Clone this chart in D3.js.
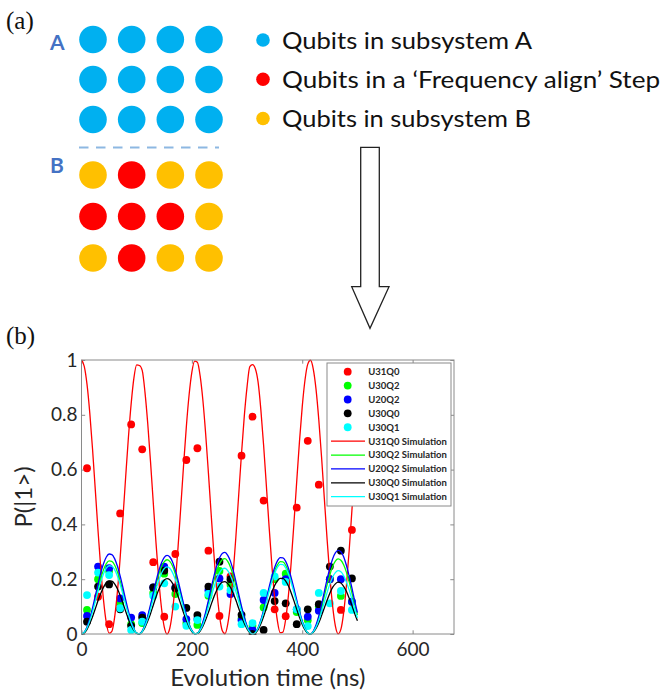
<!DOCTYPE html>
<html>
<head>
<meta charset="utf-8">
<script src="https://cdn.jsdelivr.net/npm/d3@7"></script>
<style>
  body { margin: 0; background: #fff; }
  svg { display: block; }
</style>
</head>
<body>
<svg id="fig" width="661" height="696"></svg>
<script>
// ---------- Panel (a): qubit layout ----------
const layoutCols = [0, 1, 2, 3];
const layoutRowsA = [0, 1, 2];
const layoutRowsB = [0, 1, 2];
// A = subsystem A, F = frequency-align step, B = subsystem B
const gridA = [
  ["A", "A", "A", "A"],
  ["A", "A", "A", "A"],
  ["A", "A", "A", "A"]
];
const gridB = [
  ["B", "F", "B", "B"],
  ["F", "F", "F", "B"],
  ["B", "F", "B", "B"]
];
const qubitKinds = ["A", "F", "B"];
const qubitLabels = [
  "Qubits in subsystem A",
  "Qubits in a \u2018Frequency align\u2019 Step",
  "Qubits in subsystem B"
];

// ---------- Panel (b): measured populations ----------
const sampleTimes = [10, 30, 50, 70, 90, 110, 130, 150, 170, 190, 210, 230, 250,
                     270, 290, 310, 330, 350, 370, 390, 410, 430, 450, 470, 490];
const U31Q0 = [0.605, 0.136, 0.036, 0.440, 0.765, 0.674, 0.262, 0.063, 0.292, 0.635, 0.678, 0.304, 0.066,
               0.210, 0.651, 0.793, 0.487, 0.090, 0.065, 0.461, 0.705, 0.545, 0.200, 0.088, 0.380];
const U30Q2 = [0.088, 0.200, 0.230, 0.110, 0.036, 0.040, 0.150, 0.220, 0.146, 0.040, 0.033, 0.140, 0.230,
               0.180, 0.057, 0.030, 0.097, 0.200, 0.220, 0.080, 0.050, 0.100, 0.200, 0.139, 0.118];
const U20Q2 = [0.066, 0.246, 0.240, 0.130, 0.060, 0.069, 0.170, 0.246, 0.170, 0.054, 0.055, 0.160, 0.203,
               0.146, 0.050, 0.015, 0.124, 0.150, 0.200, 0.090, 0.063, 0.085, 0.200, 0.200, 0.118];
const U30Q0 = [0.045, 0.173, 0.181, 0.090, 0.030, 0.060, 0.170, 0.231, 0.167, 0.095, 0.069, 0.173, 0.264,
               0.200, 0.070, 0.000, 0.015, 0.120, 0.112, 0.036, 0.090, 0.109, 0.246, 0.304, 0.203];
const U30Q1 = [0.142, 0.224, 0.215, 0.094, 0.015, 0.045, 0.140, 0.185, 0.100, 0.030, 0.051, 0.146, 0.173,
               0.160, 0.036, 0.040, 0.150, 0.210, 0.190, 0.090, 0.029, 0.150, 0.112, 0.157, 0.088];

// ---------- Panel (b): simulated populations ----------
const simTimes = [0, 5, 10, 15, 20, 25, 30, 35, 40, 45, 50, 55, 60, 65, 70, 75, 80, 85, 90, 95,
  100, 105, 110, 115, 120, 125, 130, 135, 140, 145, 150, 155, 160, 165, 170, 175, 180, 185, 190, 195,
  200, 205, 210, 215, 220, 225, 230, 235, 240, 245, 250, 255, 260, 265, 270, 275, 280, 285, 290, 295,
  300, 305, 310, 315, 320, 325, 330, 335, 340, 345, 350, 355, 360, 365, 370, 375, 380, 385, 390, 395,
  400, 405, 410, 415, 420, 425, 430, 435, 440, 445, 450, 455, 460, 465, 470, 475, 480, 485, 490, 495, 500];
const U31Q0Sim = [1.000, 0.977, 0.911, 0.807, 0.675, 0.526, 0.376, 0.237, 0.122, 0.041, 0.003, 0.010, 0.061, 0.153, 0.277, 0.421, 0.572, 0.717, 0.841, 0.935,
  0.982, 0.980, 0.962, 0.883, 0.769, 0.631, 0.481, 0.333, 0.199, 0.094, 0.025, 0.000, 0.021, 0.085, 0.187, 0.318, 0.466, 0.617, 0.757, 0.873,
  0.956, 0.996, 0.992, 0.942, 0.852, 0.730, 0.587, 0.436, 0.290, 0.164, 0.069, 0.013, 0.001, 0.036, 0.112, 0.224, 0.362, 0.512, 0.660, 0.795,
  0.902, 0.976, 0.983, 0.968, 0.919, 0.819, 0.689, 0.541, 0.390, 0.250, 0.132, 0.048, 0.005, 0.007, 0.054, 0.142, 0.263, 0.406, 0.557, 0.703,
  0.830, 0.927, 0.985, 0.999, 0.967, 0.893, 0.782, 0.646, 0.496, 0.347, 0.212, 0.103, 0.030, 0.001, 0.017, 0.077, 0.176, 0.304, 0.451, 0.602, 0.743];
const U30Q2Sim = [0.000, 0.006, 0.024, 0.052, 0.087, 0.127, 0.167, 0.204, 0.235, 0.257, 0.267, 0.265, 0.252, 0.227, 0.194, 0.155, 0.115, 0.076, 0.043, 0.017,
  0.003, 0.001, 0.010, 0.032, 0.062, 0.100, 0.141, 0.181, 0.217, 0.246, 0.264, 0.271, 0.265, 0.248, 0.220, 0.185, 0.145, 0.104, 0.066, 0.034,
  0.012, 0.001, 0.002, 0.016, 0.041, 0.074, 0.114, 0.155, 0.195, 0.230, 0.256, 0.271, 0.275, 0.265, 0.244, 0.213, 0.176, 0.134, 0.093, 0.057,
  0.027, 0.008, 0.000, 0.005, 0.021, 0.048, 0.083, 0.122, 0.162, 0.199, 0.230, 0.252, 0.264, 0.263, 0.251, 0.227, 0.195, 0.157, 0.117, 0.079,
  0.045, 0.019, 0.004, 0.000, 0.009, 0.029, 0.060, 0.097, 0.138, 0.179, 0.216, 0.246, 0.266, 0.274, 0.269, 0.253, 0.226, 0.191, 0.150, 0.109, 0.070];
const U20Q2Sim = [0.000, 0.007, 0.026, 0.057, 0.095, 0.139, 0.183, 0.224, 0.257, 0.281, 0.292, 0.290, 0.275, 0.248, 0.212, 0.170, 0.125, 0.083, 0.047, 0.019,
  0.003, 0.001, 0.011, 0.034, 0.066, 0.106, 0.149, 0.192, 0.230, 0.260, 0.280, 0.287, 0.281, 0.263, 0.233, 0.196, 0.153, 0.110, 0.070, 0.036,
  0.013, 0.001, 0.002, 0.017, 0.044, 0.080, 0.123, 0.168, 0.211, 0.249, 0.277, 0.294, 0.298, 0.287, 0.265, 0.231, 0.190, 0.145, 0.101, 0.061,
  0.029, 0.008, 0.000, 0.005, 0.023, 0.051, 0.087, 0.128, 0.171, 0.210, 0.243, 0.267, 0.279, 0.278, 0.265, 0.240, 0.206, 0.166, 0.124, 0.083,
  0.048, 0.020, 0.004, 0.000, 0.010, 0.033, 0.066, 0.108, 0.154, 0.199, 0.240, 0.274, 0.296, 0.305, 0.300, 0.282, 0.251, 0.212, 0.168, 0.121, 0.078];
const U30Q0Sim = [0.000, 0.004, 0.017, 0.038, 0.063, 0.092, 0.122, 0.149, 0.171, 0.187, 0.194, 0.193, 0.183, 0.165, 0.141, 0.113, 0.083, 0.055, 0.031, 0.013,
  0.002, 0.000, 0.008, 0.024, 0.047, 0.074, 0.105, 0.135, 0.162, 0.183, 0.197, 0.202, 0.198, 0.185, 0.164, 0.138, 0.108, 0.077, 0.049, 0.026,
  0.009, 0.001, 0.002, 0.011, 0.028, 0.052, 0.079, 0.108, 0.136, 0.160, 0.178, 0.189, 0.191, 0.184, 0.170, 0.148, 0.122, 0.093, 0.065, 0.039,
  0.019, 0.005, 0.000, 0.004, 0.016, 0.037, 0.064, 0.094, 0.125, 0.153, 0.177, 0.194, 0.203, 0.203, 0.193, 0.175, 0.150, 0.121, 0.090, 0.061,
  0.035, 0.015, 0.003, 0.000, 0.006, 0.020, 0.041, 0.067, 0.095, 0.123, 0.149, 0.170, 0.183, 0.189, 0.186, 0.174, 0.156, 0.131, 0.104, 0.075, 0.048];
const U30Q1Sim = [0.000, 0.006, 0.022, 0.048, 0.081, 0.118, 0.156, 0.191, 0.220, 0.240, 0.249, 0.248, 0.235, 0.212, 0.181, 0.145, 0.107, 0.071, 0.040, 0.016,
  0.003, 0.001, 0.009, 0.029, 0.056, 0.090, 0.127, 0.164, 0.196, 0.222, 0.239, 0.245, 0.240, 0.224, 0.199, 0.167, 0.131, 0.094, 0.060, 0.031,
  0.011, 0.001, 0.002, 0.014, 0.035, 0.065, 0.099, 0.135, 0.170, 0.201, 0.223, 0.237, 0.240, 0.231, 0.213, 0.186, 0.153, 0.117, 0.082, 0.049,
  0.024, 0.007, 0.000, 0.005, 0.021, 0.046, 0.079, 0.117, 0.156, 0.191, 0.221, 0.243, 0.254, 0.253, 0.241, 0.219, 0.188, 0.151, 0.113, 0.076,
  0.043, 0.019, 0.004, 0.000, 0.008, 0.025, 0.050, 0.082, 0.116, 0.151, 0.182, 0.207, 0.224, 0.231, 0.227, 0.213, 0.190, 0.161, 0.127, 0.092, 0.059];

const xTicks = [0, 200, 400, 600];
const yTicks = [0, 0.2, 0.4, 0.6, 0.8, 1];
const yTickLabels = ["0", "0.2", "0.4", "0.6", "0.8", "1"];
const measuredNames = ["U31Q0", "U30Q2", "U20Q2", "U30Q0", "U30Q1"];
const simNames = ["U31Q0 Simulation", "U30Q2 Simulation", "U20Q2 Simulation", "U30Q0 Simulation", "U30Q1 Simulation"];

// ---------- styles ----------
const SANS = "Lato, 'Open Sans', 'Noto Sans', sans-serif";
const SERIF = "'Liberation Serif', 'DejaVu Serif', serif";
const qubitColor = d3.scaleOrdinal().domain(qubitKinds).range(["#00B0F0", "#FF0000", "#FFC000"]);
const seriesColor = d3.scaleOrdinal().domain([0, 1, 2, 3, 4]).range(["#FF0000", "#00FF00", "#0000FF", "#000000", "#00FFFF"]);

const svg = d3.select("#fig");

// ======== Panel (a) ========
svg.append("text").attr("x", 6).attr("y", 29)
  .attr("font-family", SERIF).attr("font-size", 25).attr("fill", "#111").text("(a)");

const colX = d3.scalePoint().domain(layoutCols).range([93, 209]);
const rowA = d3.scalePoint().domain(layoutRowsA).range([39.5, 119.5]);
const rowB = d3.scalePoint().domain(layoutRowsB).range([175, 258]);
const R = 13.8;

const gA = svg.append("g");
layoutRowsA.forEach(r => layoutCols.forEach(c => {
  gA.append("circle").attr("cx", colX(c)).attr("cy", rowA(r)).attr("r", R)
    .attr("fill", qubitColor(gridA[r][c]));
}));
layoutRowsB.forEach(r => layoutCols.forEach(c => {
  gA.append("circle").attr("cx", colX(c)).attr("cy", rowB(r)).attr("r", R)
    .attr("fill", qubitColor(gridB[r][c]));
}));

// subsystem names
svg.append("text").attr("x", 50).attr("y", 50).attr("font-family", SANS)
  .attr("font-weight", 700).attr("font-size", 21).attr("fill", "#4472C4").text("A");
svg.append("text").attr("x", 50).attr("y", 173).attr("font-family", SANS)
  .attr("font-weight", 700).attr("font-size", 21).attr("fill", "#4472C4").text("B");

// dashed divider
svg.append("line").attr("x1", 79).attr("x2", 219).attr("y1", 147.5).attr("y2", 147.5)
  .attr("stroke", "#8DB8E2").attr("stroke-width", 2).attr("stroke-dasharray", "9.5,7.5");

// key
const keyY = d3.scalePoint().domain(qubitKinds).range([40, 118.5]);
const keyWidths = [250, 378, 249];
qubitKinds.forEach((k, i) => {
  svg.append("circle").attr("cx", 263).attr("cy", keyY(k)).attr("r", 6.8).attr("fill", qubitColor(k));
  svg.append("text").attr("x", 282).attr("y", keyY(k) + 8.5)
    .attr("font-family", SANS).attr("font-size", 23).attr("fill", "#111")
    .attr("textLength", keyWidths[i]).attr("lengthAdjust", "spacingAndGlyphs")
    .text(qubitLabels[i]);
});

// downward arrow
const arrow = d3.path();
arrow.moveTo(360.7, 147.3);
arrow.lineTo(379.3, 147.3);
arrow.lineTo(379.3, 286.7);
arrow.lineTo(389, 286.7);
arrow.lineTo(370, 328.3);
arrow.lineTo(351.7, 286.7);
arrow.lineTo(360.7, 286.7);
arrow.closePath();
svg.append("path").attr("d", arrow.toString()).attr("fill", "#fff")
  .attr("stroke", "#222").attr("stroke-width", 1.3).attr("stroke-linejoin", "miter");

// ======== Panel (b) ========
svg.append("text").attr("x", 6).attr("y", 344)
  .attr("font-family", SERIF).attr("font-size", 25).attr("fill", "#111").text("(b)");

const plotL = 81.5, plotR = 454, plotT = 360, plotB = 634;
const x = d3.scaleLinear().domain([0, 675]).range([plotL, plotR]);
const y = d3.scaleLinear().domain([0, 1]).range([plotB, plotT]);

svg.append("defs").append("clipPath").attr("id", "plotClip")
  .append("rect").attr("x", plotL).attr("y", plotT - 1).attr("width", plotR - plotL).attr("height", plotB - plotT + 2);

svg.append("rect").attr("x", plotL).attr("y", plotT).attr("width", plotR - plotL).attr("height", plotB - plotT)
  .attr("fill", "#fff");

const axisColor = "#8a8a8a";
const TL = 3.7;
const styleAxis = g => {
  g.select(".domain").remove();
  g.selectAll(".tick line").attr("stroke", axisColor).attr("stroke-width", 1);
  g.selectAll(".tick text").attr("font-family", SANS).attr("font-size", 19).attr("fill", "#262626");
};
svg.append("g").attr("transform", `translate(0,${plotB})`)
  .call(d3.axisBottom(x).tickValues(xTicks).tickSize(-TL).tickPadding(9).tickFormat(d3.format("d")))
  .call(styleAxis);
svg.append("g").attr("transform", `translate(0,${plotT})`)
  .call(d3.axisTop(x).tickValues(xTicks).tickSize(-TL).tickFormat(""))
  .call(styleAxis);
svg.append("g").attr("transform", `translate(${plotL},0)`)
  .call(d3.axisLeft(y).tickValues(yTicks).tickSize(-TL).tickPadding(4).tickFormat((d, i) => yTickLabels[i]))
  .call(styleAxis);
svg.append("g").attr("transform", `translate(${plotR},0)`)
  .call(d3.axisRight(y).tickValues(yTicks).tickSize(-TL).tickFormat(""))
  .call(styleAxis);

// measured points
const measured = [U31Q0, U30Q2, U20Q2, U30Q0, U30Q1];
const sims = [U31Q0Sim, U30Q2Sim, U20Q2Sim, U30Q0Sim, U30Q1Sim];
const plotG = svg.append("g").attr("clip-path", "url(#plotClip)");
measured.forEach((vals, si) => {
  plotG.append("g").selectAll("circle").data(vals).join("circle")
    .attr("cx", (d, i) => x(sampleTimes[i])).attr("cy", d => y(d)).attr("r", 3.9)
    .attr("fill", seriesColor(si));
});

// simulation curves
const line = d3.line().curve(d3.curveMonotoneX);
sims.forEach((vals, si) => {
  plotG.append("path")
    .attr("d", line(vals.map((v, i) => [x(simTimes[i]), y(v)])))
    .attr("fill", "none").attr("stroke", seriesColor(si)).attr("stroke-width", 1.3);
});

// frame
svg.append("rect").attr("x", plotL).attr("y", plotT).attr("width", plotR - plotL).attr("height", plotB - plotT)
  .attr("fill", "none").attr("stroke", axisColor).attr("stroke-width", 1);

// axis titles
svg.append("text").attr("x", (plotL + plotR) / 2).attr("y", 686).attr("text-anchor", "middle")
  .attr("font-family", SANS).attr("font-size", 24).attr("fill", "#262626").text("Evolution time (ns)");
svg.append("text").attr("transform", "translate(32,497) rotate(-90)").attr("text-anchor", "middle")
  .attr("font-family", SANS).attr("font-size", 24).attr("fill", "#262626").text("P(|1>)");

// legend
const lg = svg.append("g");
lg.append("rect").attr("x", 327).attr("y", 363).attr("width", 124).attr("height", 143)
  .attr("fill", "#fff").attr("stroke", axisColor).attr("stroke-width", 1);
const legendNames = measuredNames.concat(simNames);
const ly = d3.scaleLinear().domain([0, 9]).range([371.7, 496.7]);
legendNames.forEach((name, i) => {
  const yy = ly(i);
  if (i < 5) {
    lg.append("circle").attr("cx", 347.7).attr("cy", yy).attr("r", 3.9).attr("fill", seriesColor(i));
  } else {
    lg.append("line").attr("x1", 331).attr("x2", 365).attr("y1", yy).attr("y2", yy)
      .attr("stroke", seriesColor(i - 5)).attr("stroke-width", 1.3);
  }
  lg.append("text").attr("x", 368.3).attr("y", yy + 3.4)
    .attr("font-family", SANS).attr("font-weight", 700).attr("font-size", 9.5).attr("fill", "#262626")
    .text(name);
});
</script>
</body>
</html>
